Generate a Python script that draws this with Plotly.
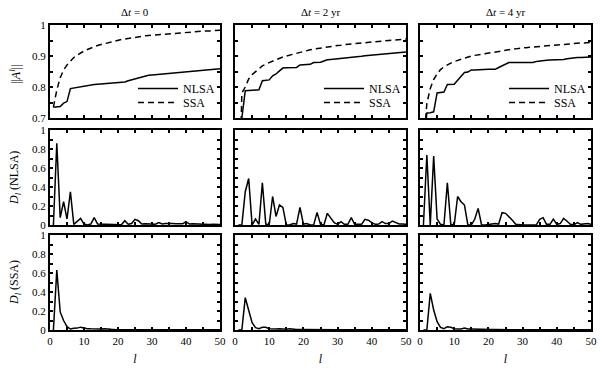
import plotly.graph_objects as go

l_vals = list(range(1, 51))

# Row 1: ||A^l||
norm_nlsa_dt0 = [0.735, 0.737, 0.737, 0.748, 0.753, 0.795, 0.797, 0.800, 0.802, 0.803,
                 0.804, 0.806, 0.808, 0.809, 0.810, 0.811, 0.812, 0.813, 0.814, 0.815,
                 0.815, 0.816, 0.820, 0.823, 0.826, 0.831, 0.834, 0.836, 0.838, 0.839,
                 0.840, 0.841, 0.842, 0.844, 0.845, 0.846, 0.847, 0.848, 0.849, 0.850,
                 0.851, 0.852, 0.853, 0.854, 0.855, 0.856, 0.857, 0.857, 0.858, 0.859]
norm_ssa_dt0 = [0.735, 0.790, 0.830, 0.855, 0.871, 0.884, 0.895, 0.903, 0.910, 0.916,
                0.921, 0.926, 0.930, 0.934, 0.937, 0.940, 0.943, 0.946, 0.948, 0.951,
                0.953, 0.955, 0.957, 0.959, 0.960, 0.962, 0.963, 0.965, 0.966, 0.967,
                0.968, 0.969, 0.970, 0.971, 0.972, 0.973, 0.974, 0.975, 0.976, 0.977,
                0.977, 0.978, 0.979, 0.979, 0.980, 0.981, 0.981, 0.982, 0.982, 0.983]
norm_nlsa_dt2 = [0.550, 0.700, 0.788, 0.789, 0.790, 0.790, 0.791, 0.820, 0.821, 0.823,
                 0.836, 0.842, 0.852, 0.861, 0.862, 0.862, 0.862, 0.863, 0.871, 0.872,
                 0.872, 0.873, 0.879, 0.879, 0.880, 0.884, 0.888, 0.889, 0.890, 0.890,
                 0.891, 0.892, 0.893, 0.894, 0.895, 0.897, 0.899, 0.901, 0.902, 0.903,
                 0.904, 0.905, 0.906, 0.907, 0.908, 0.909, 0.910, 0.911, 0.912, 0.913]
norm_ssa_dt2 = [0.300, 0.780, 0.800, 0.826, 0.840, 0.850, 0.860, 0.868, 0.874, 0.879,
                0.884, 0.888, 0.893, 0.897, 0.900, 0.903, 0.907, 0.910, 0.913, 0.916,
                0.918, 0.920, 0.922, 0.924, 0.926, 0.928, 0.930, 0.931, 0.933, 0.934,
                0.935, 0.937, 0.938, 0.939, 0.940, 0.941, 0.942, 0.944, 0.945, 0.946,
                0.947, 0.948, 0.948, 0.949, 0.950, 0.951, 0.952, 0.953, 0.954, 0.955]
norm_nlsa_dt4 = [0.600, 0.716, 0.717, 0.720, 0.781, 0.782, 0.784, 0.808, 0.808, 0.809,
                 0.822, 0.835, 0.847, 0.848, 0.855, 0.855, 0.856, 0.856, 0.856, 0.857,
                 0.857, 0.857, 0.863, 0.868, 0.874, 0.879, 0.879, 0.879, 0.879, 0.879,
                 0.879, 0.879, 0.879, 0.882, 0.884, 0.886, 0.886, 0.887, 0.887, 0.888,
                 0.888, 0.889, 0.891, 0.893, 0.894, 0.895, 0.895, 0.896, 0.896, 0.897]
norm_ssa_dt4 = [0.600, 0.747, 0.795, 0.824, 0.842, 0.856, 0.865, 0.872, 0.877, 0.882,
                0.886, 0.890, 0.894, 0.897, 0.900, 0.902, 0.904, 0.906, 0.908, 0.910,
                0.912, 0.914, 0.916, 0.917, 0.919, 0.920, 0.922, 0.923, 0.925, 0.926,
                0.927, 0.928, 0.929, 0.931, 0.932, 0.933, 0.934, 0.935, 0.936, 0.937,
                0.938, 0.938, 0.939, 0.939, 0.940, 0.941, 0.942, 0.942, 0.943, 0.944]

# Row 2: D_l (NLSA)
d_nlsa_dt0 = [0.0, 0.86, 0.077, 0.245, 0.063, 0.35, 0.007, 0.035, 0.07, 0.01,
              0.0, 0.01, 0.077, 0.01, 0.008, 0.01, 0.01, 0.005, 0.003, 0.002,
              0.002, 0.045, 0.008, 0.015, 0.06, 0.045, 0.01, 0.012, 0.01, 0.005,
              0.008, 0.025, 0.01, 0.015, 0.018, 0.015, 0.012, 0.01, 0.012, 0.035,
              0.01, 0.012, 0.01, 0.008, 0.01, 0.006, 0.005, 0.008, 0.004, 0.005]
d_nlsa_dt2 = [0.0, 0.0, 0.35, 0.49, 0.0, 0.063, 0.007, 0.445, 0.01, 0.0,
              0.30, 0.09, 0.21, 0.185, 0.0, 0.0, 0.015, 0.01, 0.186, 0.01,
              0.015, 0.0, 0.0, 0.133, 0.007, 0.0, 0.123, 0.077, 0.025, 0.007,
              0.035, 0.007, 0.007, 0.077, 0.007, 0.007, 0.007, 0.06, 0.05, 0.025,
              0.007, 0.01, 0.035, 0.015, 0.015, 0.042, 0.025, 0.01, 0.01, 0.007]
d_nlsa_dt4 = [0.0, 0.737, 0.0, 0.727, 0.063, 0.007, 0.0, 0.445, 0.007, 0.0,
              0.30, 0.245, 0.21, 0.0, 0.0, 0.06, 0.175, 0.0, 0.0, 0.007,
              0.01, 0.015, 0.01, 0.13, 0.123, 0.09, 0.05, 0.007, 0.0, 0.0,
              0.0, 0.0, 0.0, 0.002, 0.06, 0.077, 0.007, 0.007, 0.063, 0.007,
              0.015, 0.07, 0.04, 0.007, 0.002, 0.025, 0.007, 0.015, 0.015, 0.007]

# Row 3: D_l (SSA)
d_ssa_dt0 = [0.0, 0.63, 0.19, 0.10, 0.035, 0.01, 0.018, 0.02, 0.03, 0.02,
             0.014, 0.012, 0.01, 0.01, 0.01, 0.014, 0.008, 0.007, 0.006, 0.006,
             0.005, 0.005, 0.004, 0.004, 0.005, 0.004, 0.003, 0.003, 0.003, 0.003,
             0.003, 0.003, 0.002, 0.003, 0.002, 0.002, 0.002, 0.002, 0.002, 0.002,
             0.002, 0.002, 0.002, 0.002, 0.002, 0.002, 0.002, 0.002, 0.002, 0.002]
d_ssa_dt2 = [0.0, 0.0, 0.34, 0.21, 0.077, 0.025, 0.014, 0.028, 0.028, 0.014,
             0.01, 0.01, 0.014, 0.008, 0.008, 0.012, 0.006, 0.005, 0.005, 0.004,
             0.004, 0.004, 0.003, 0.003, 0.004, 0.003, 0.003, 0.002, 0.002, 0.002,
             0.002, 0.002, 0.002, 0.002, 0.002, 0.002, 0.002, 0.002, 0.002, 0.002,
             0.002, 0.002, 0.002, 0.002, 0.002, 0.002, 0.002, 0.002, 0.002, 0.002]
d_ssa_dt4 = [0.0, 0.0, 0.386, 0.21, 0.088, 0.028, 0.014, 0.035, 0.028, 0.014,
             0.01, 0.01, 0.02, 0.01, 0.01, 0.008, 0.006, 0.005, 0.005, 0.004,
             0.004, 0.004, 0.004, 0.003, 0.003, 0.003, 0.003, 0.002, 0.002, 0.002,
             0.002, 0.002, 0.002, 0.002, 0.002, 0.002, 0.002, 0.002, 0.002, 0.002,
             0.002, 0.002, 0.002, 0.002, 0.002, 0.002, 0.002, 0.002, 0.002, 0.002]

column_titles = ["Δ<i>t</i> = 0", "Δ<i>t</i> = 2 yr", "Δ<i>t</i> = 4 yr"]
row_titles = ["||<i>A</i><sup><i>l</i></sup>||",
              "<i>D</i><sub><i>l</i></sub> (NLSA)",
              "<i>D</i><sub><i>l</i></sub> (SSA)"]
x_title = "<i>l</i>"
x_tickvals = [0, 5, 10, 15, 20, 25, 30, 35, 40, 45, 50]
x_ticktext = ["0", "", "10", "", "20", "", "30", "", "40", "", "50"]
norm_tickvals = [0.7, 0.75, 0.8, 0.85, 0.9, 0.95, 1.0]
norm_ticktext = ["0.7", "", "0.8", "", "0.9", "", "1"]
d_tickvals = [0, 0.1, 0.2, 0.3, 0.4, 0.5, 0.6, 0.7, 0.8, 0.9, 1.0]
d_ticktext = ["0", "", "0.2", "", "0.4", "", "0.6", "", "0.8", "", "1"]

W, H = 600, 368
FONT = "Liberation Serif"
xdoms = [(50, 220), (235, 406), (420, 591)]
ydoms = [(25, 118), (130, 225), (235, 330)]

fig = go.Figure()
BLACK = "black"

norms = [(norm_nlsa_dt0, norm_ssa_dt0), (norm_nlsa_dt2, norm_ssa_dt2), (norm_nlsa_dt4, norm_ssa_dt4)]
d_nlsa = [d_nlsa_dt0, d_nlsa_dt2, d_nlsa_dt4]
d_ssa = [d_ssa_dt0, d_ssa_dt2, d_ssa_dt4]

def legname(k):
    return "legend" if k == 1 else f"legend{k}"

for r in range(3):
    for c in range(3):
        idx = r * 3 + c + 1
        xa = "x" if idx == 1 else f"x{idx}"
        ya = "y" if idx == 1 else f"y{idx}"
        if r == 0:
            nl, ss = norms[c]
            fig.add_trace(go.Scatter(x=l_vals, y=nl, mode="lines", name="NLSA",
                                     line=dict(color=BLACK, width=1.5),
                                     xaxis=xa, yaxis=ya, legend=legname(2 * c + 1)))
            fig.add_trace(go.Scatter(x=l_vals, y=ss, mode="lines", name="SSA",
                                     line=dict(color=BLACK, width=1.5, dash="6px,4px"),
                                     xaxis=xa, yaxis=ya, legend=legname(2 * c + 2)))
        else:
            yv = d_nlsa[c] if r == 1 else d_ssa[c]
            fig.add_trace(go.Scatter(x=l_vals, y=yv, mode="lines", showlegend=False,
                                     line=dict(color=BLACK, width=1.5),
                                     xaxis=xa, yaxis=ya))
        xd = xdoms[c]
        yd = ydoms[r]
        xkey = "xaxis" if idx == 1 else f"xaxis{idx}"
        ykey = "yaxis" if idx == 1 else f"yaxis{idx}"
        common = dict(showline=True, linecolor=BLACK, linewidth=2, mirror="ticks",
                      ticks="inside", ticklen=3, tickwidth=1.5, tickcolor=BLACK,
                      showgrid=False, zeroline=False, automargin=False,
                      tickfont=dict(family=FONT, size=11, color=BLACK))
        fig.update_layout({
            xkey: dict(common, domain=[xd[0] / W, xd[1] / W], range=[0, 50],
                       anchor=ya, tickvals=x_tickvals, ticktext=x_ticktext,
                       showticklabels=(r == 2),
                       title=dict(text=x_title if r == 2 else "",
                                  font=dict(family=FONT, size=12, color=BLACK), standoff=8)),
            ykey: dict(common, domain=[1 - yd[1] / H, 1 - yd[0] / H],
                       range=[0.7, 1.0] if r == 0 else [0, 1],
                       anchor=xa,
                       tickvals=norm_tickvals if r == 0 else d_tickvals,
                       ticktext=norm_ticktext if r == 0 else d_ticktext,
                       showticklabels=(c == 0)),
        })

annotations = []
for c in range(3):
    xc = (xdoms[c][0] + xdoms[c][1]) / 2 / W
    annotations.append(dict(text=column_titles[c], x=xc, y=1 - 12 / H, xref="paper", yref="paper",
                            showarrow=False, font=dict(family=FONT, size=11, color=BLACK),
                            xanchor="center", yanchor="middle"))
ytitle_pos = [(16, 75), (15, 178), (15, 283)]
for r in range(3):
    px, py = ytitle_pos[r]
    annotations.append(dict(text=row_titles[r], x=px / W, y=1 - py / H, xref="paper", yref="paper",
                            showarrow=False, textangle=-90,
                            font=dict(family=FONT, size=12, color=BLACK),
                            xanchor="center", yanchor="middle"))

legend_style = dict(font=dict(family=FONT, size=12, color=BLACK), bgcolor="rgba(0,0,0,0)",
                    xanchor="left", yanchor="top", tracegroupgap=0, itemwidth=40)
for c in range(3):
    lx = (xdoms[c][1] - 87) / W
    fig.update_layout({legname(2 * c + 1): dict(legend_style, x=lx, y=1 - 74 / H),
                       legname(2 * c + 2): dict(legend_style, x=lx, y=1 - 88 / H)})

fig.update_layout(width=W, height=H, margin=dict(l=0, r=0, t=0, b=0, autoexpand=False),
                  paper_bgcolor="white", plot_bgcolor="white",
                  font=dict(family=FONT, size=11, color=BLACK),
                  showlegend=True, annotations=annotations)

fig.write_html("out.html", config={"displayModeBar": False},
               post_script="document.body.style.margin='0px';document.body.style.padding='0px';")
